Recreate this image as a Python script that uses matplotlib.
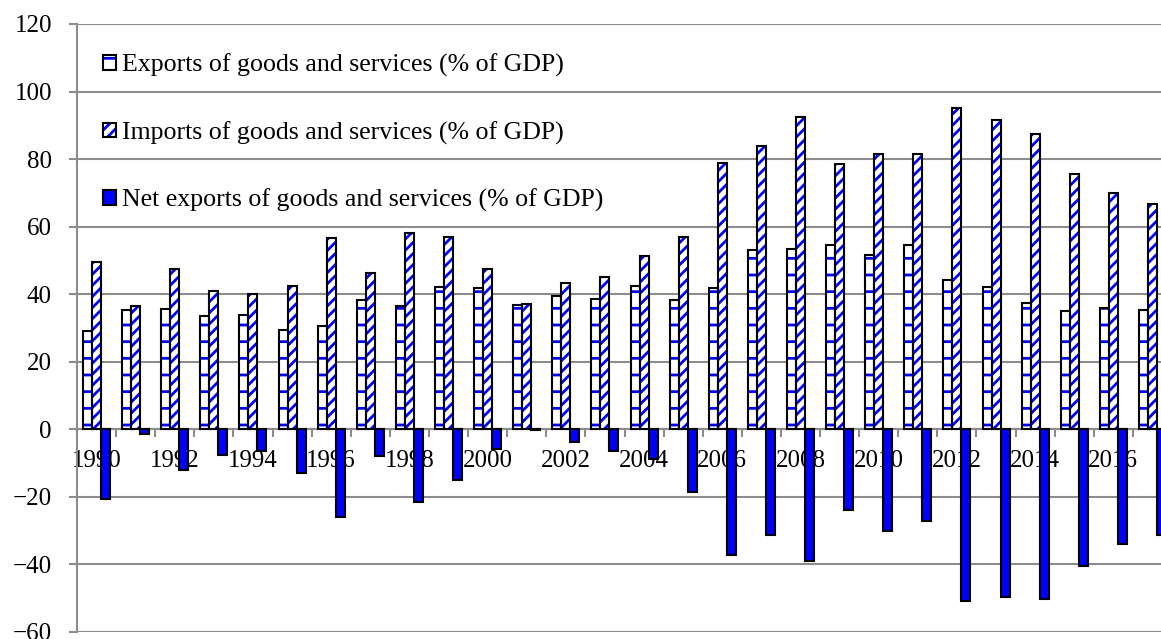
import matplotlib
matplotlib.use("Agg")
import matplotlib.pyplot as plt
import numpy as np
from matplotlib.patches import Patch
from matplotlib.legend_handler import HandlerTuple

plt.rcParams['font.family'] = ['Liberation Serif', 'DejaVu Serif']
plt.rcParams['hatch.linewidth'] = 2.0

years = list(range(1990, 2018))
exports = [29.1, 35.2, 35.5, 33.5, 33.7, 29.4, 30.7, 38.2, 36.5, 42.0,
           41.8, 36.7, 39.5, 38.5, 42.5, 38.3, 41.7, 53.0, 53.5, 54.7,
           51.5, 54.5, 44.3, 42.2, 37.3, 35.1, 35.8, 35.4]
imports = [49.5, 36.5, 47.5, 41.0, 40.0, 42.4, 56.5, 46.2, 58.0, 57.0,
           47.5, 37.0, 43.3, 45.0, 51.3, 56.8, 78.8, 83.9, 92.4, 78.5,
           81.5, 81.5, 95.1, 91.6, 87.5, 75.6, 69.9, 66.6]
net_exports = [-20.5, -1.3, -12.0, -7.5, -6.3, -13.0, -26.0, -8.0, -21.5, -15.0,
               -5.7, -0.3, -3.8, -6.5, -8.8, -18.5, -37.3, -31.2, -39.0, -24.0,
               -30.2, -27.2, -50.8, -49.6, -50.2, -40.5, -34.1, -31.2]

labels = ['Exports of goods and services (% of GDP)',
          'Imports of goods and services (% of GDP)',
          'Net exports of goods and services (% of GDP)']

BLUE = '#0000FF'
GRID = '#8C8C8C'

fig = plt.figure(figsize=(11.61, 6.39), dpi=100)
ax = fig.add_axes([0.0663, 0.011, 0.9432, 0.9515])

x = np.arange(len(years))
w = 0.23

# exports: white with blue horizontal dashes
ax.bar(x - w, exports, w, color='white', edgecolor=BLUE, linewidth=0, hatch='-', zorder=2)
ax.bar(x - w, exports, w, fill=False, edgecolor='black', linewidth=1.5, zorder=3)
# imports: blue diagonal stripes
ax.bar(x, imports, w, color='white', edgecolor=BLUE, linewidth=0, hatch='///', zorder=2)
ax.bar(x, imports, w, fill=False, edgecolor='black', linewidth=1.5, zorder=3)
# net exports: solid blue
ax.bar(x + w, net_exports, w, color=BLUE, edgecolor='black', linewidth=1.5, zorder=3)

ax.set_xlim(-0.5, len(years) - 0.5)
ax.set_ylim(-60, 120)
ax.set_yticks(np.arange(-60, 121, 20))
ax.yaxis.grid(True, color=GRID, linewidth=1.5)
ax.set_axisbelow(True)

for s in ['top', 'right']:
    ax.spines[s].set_visible(False)
ax.spines['left'].set_color(GRID)
ax.spines['left'].set_linewidth(1.5)
ax.spines['bottom'].set_position(('data', 0))
ax.spines['bottom'].set_color(GRID)
ax.spines['bottom'].set_linewidth(1.5)

ax.tick_params(axis='y', direction='out', length=6, width=1.5, color=GRID,
               labelsize=18, pad=12)

# category boundary ticks on the zero line, year labels every other category
ax.set_xticks(np.arange(len(years) + 1) - 0.5)
ax.tick_params(axis='x', which='major', direction='out', length=6, width=1.5,
               color=GRID, labelbottom=False)
ax.set_xticks(x[::2], [str(y) for y in years[::2]], minor=True)
ax.tick_params(axis='x', which='minor', length=0, labelsize=18, pad=15)

h_exp = (Patch(facecolor='white', edgecolor=BLUE, linewidth=0, hatch='-'),
         Patch(fill=False, edgecolor='black', linewidth=1.5))
h_imp = (Patch(facecolor='white', edgecolor=BLUE, linewidth=0, hatch='///'),
         Patch(fill=False, edgecolor='black', linewidth=1.5))
h_net = Patch(facecolor=BLUE, edgecolor='black', linewidth=1.5)

ax.legend([h_exp, h_imp, h_net], labels,
          handler_map={tuple: HandlerTuple(ndivide=1, pad=0)},
          loc='upper left', bbox_to_anchor=(103 / 1161, 1 - 54 / 639),
          bbox_transform=fig.transFigure, frameon=False, fontsize=18.6,
          handlelength=0.5, handleheight=0.5, handletextpad=0.25,
          labelspacing=1.7, borderpad=0, borderaxespad=0)

fig.savefig('out.png', dpi=100)
